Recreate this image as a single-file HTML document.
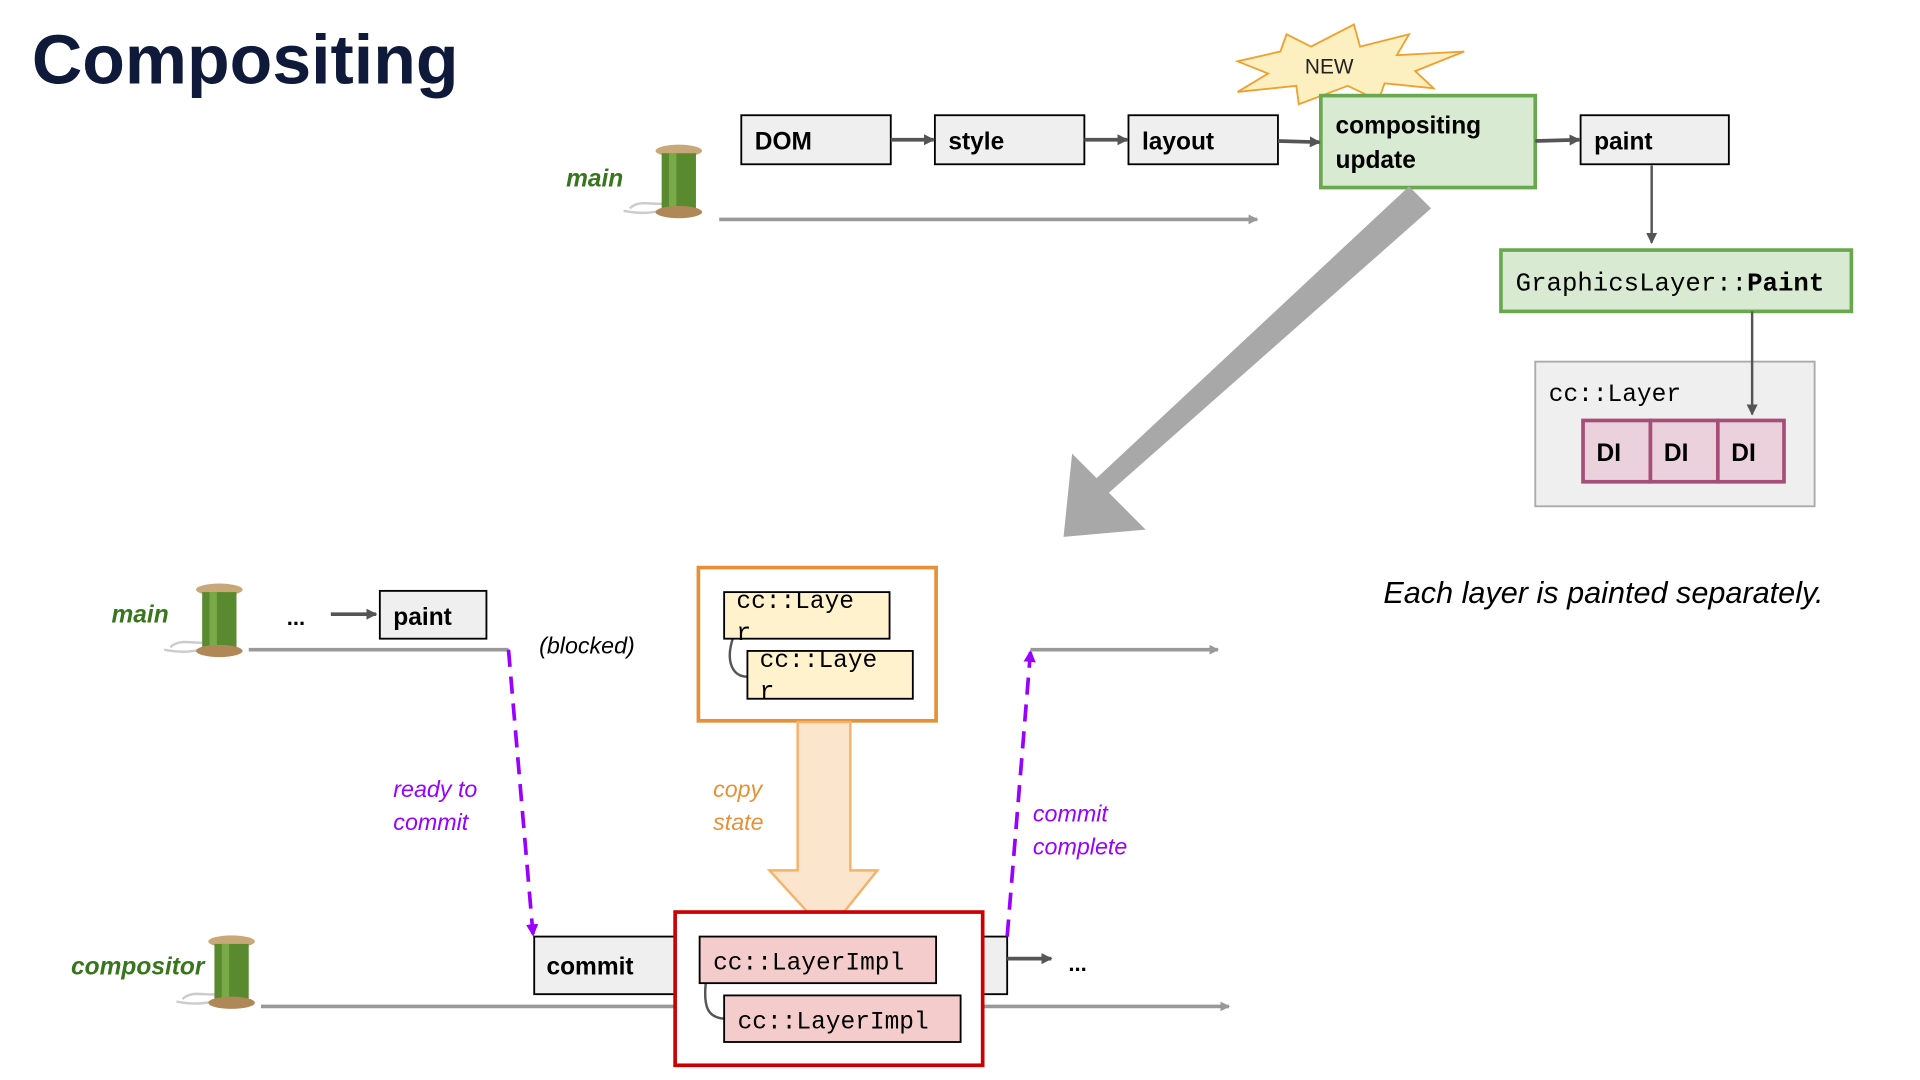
<!DOCTYPE html>
<html><head><meta charset="utf-8"><style>
html,body{margin:0;padding:0;background:#fff;width:1920px;height:1080px;overflow:hidden}
svg{display:block}
text{font-family:"Liberation Sans",sans-serif}
.m{font-family:"Liberation Mono",monospace}
.b{font-weight:bold;font-size:20px;fill:#000}
</style></head><body>
<svg width="1920" height="1080" viewBox="0 0 1567 881" preserveAspectRatio="none" xmlns="http://www.w3.org/2000/svg">
<defs>
<marker id="ag" markerWidth="8" markerHeight="8" refX="7" refY="4" orient="auto" markerUnits="userSpaceOnUse"><path d="M0,0 L8,4 L0,8z" fill="#999"/></marker>
<marker id="ad" markerWidth="9" markerHeight="9" refX="8" refY="4.5" orient="auto" markerUnits="userSpaceOnUse"><path d="M0,0 L9,4.5 L0,9z" fill="#555"/></marker>
<marker id="ap" markerWidth="10" markerHeight="10" refX="8" refY="5" orient="auto" markerUnits="userSpaceOnUse"><path d="M0,0 L10,5 L0,10z" fill="#9900ff"/></marker>
<g id="spool">
<path d="M-40,50 C-30,40 -15,52 0,42 C-10,55 -30,55 -45,52" fill="none" stroke="#ccc" stroke-width="2"/>
<ellipse cx="0" cy="3" rx="19" ry="5" fill="#c8a878"/>
<rect x="-14" y="5" width="28" height="46" fill="#5a8a30"/>
<rect x="-8" y="5" width="6" height="46" fill="#7aaa48"/>
<ellipse cx="0" cy="53" rx="19" ry="5" fill="#b08858"/>
</g>
</defs>
<text x="26" y="68" font-size="57" font-weight="bold" fill="#0f1a3a">Compositing</text>

<use href="#spool" x="554" y="120"/>
<text x="462" y="152" font-size="20" font-style="italic" font-weight="bold" fill="#38761d">main</text>
<line x1="587" y1="179" x2="1026" y2="179" stroke="#999" stroke-width="3" marker-end="url(#ag)"/>

<path d="M1010,50 L1045,42 L1050,28 L1070,38 L1105,20 L1110,38 L1150,28 L1140,45 L1195,42 L1155,58 L1170,72 L1130,68 L1125,82 L1100,70 L1060,85 L1058,70 L1010,75 L1035,60z" fill="#fdf0c0" stroke="#f0a030" stroke-width="1.5"/>
<text x="1065" y="60" font-size="17" fill="#222">NEW</text>

<g stroke="#000" stroke-width="1.5" fill="#efefef">
<rect x="605" y="94" width="122" height="40"/>
<rect x="763" y="94" width="122" height="40"/>
<rect x="921" y="94" width="122" height="40"/>
<rect x="1290" y="94" width="121" height="40"/>
</g>
<rect x="1078" y="78" width="175" height="75" fill="#d9ead3" stroke="#6aa84f" stroke-width="3"/>
<text x="616" y="122" class="b">DOM</text>
<text x="774" y="122" class="b">style</text>
<text x="932" y="122" class="b">layout</text>
<text x="1301" y="122" class="b">paint</text>
<text x="1090" y="109" class="b">compositing</text>
<text x="1090" y="137" class="b">update</text>
<g stroke="#555" stroke-width="3">
<line x1="727" y1="114" x2="762" y2="114" marker-end="url(#ad)"/>
<line x1="885" y1="114" x2="920" y2="114" marker-end="url(#ad)"/>
<line x1="1043" y1="115" x2="1077" y2="116" marker-end="url(#ad)"/>
<line x1="1253" y1="115" x2="1289" y2="114" marker-end="url(#ad)"/>
</g>
<line x1="1348" y1="135" x2="1348" y2="198" stroke="#555" stroke-width="2" marker-end="url(#ad)"/>

<path d="M1150,152 L1168,170 L905,402 L935,432 L868,438 L875,370 L895,390 L1150,152z" fill="#a8a8a8"/>

<rect x="1225" y="204" width="286" height="50" fill="#d9ead3" stroke="#6aa84f" stroke-width="3"/>
<text x="1237" y="237" font-size="21" class="m" fill="#000">GraphicsLayer::<tspan font-weight="bold">Paint</tspan></text>
<rect x="1253" y="295" width="228" height="118" fill="#efefef" stroke="#aaa" stroke-width="1.5"/>
<text x="1264" y="327" font-size="20" class="m" fill="#000">cc::Layer</text>
<g fill="#ead1dc" stroke="#a64d79" stroke-width="3">
<rect x="1292" y="343" width="55" height="50"/><rect x="1347" y="343" width="55" height="50"/><rect x="1402" y="343" width="54" height="50"/>
</g>
<text x="1303" y="376" class="b">DI</text><text x="1358" y="376" class="b">DI</text><text x="1413" y="376" class="b">DI</text>
<line x1="1430" y1="254" x2="1430" y2="338" stroke="#555" stroke-width="2" marker-end="url(#ad)"/>

<text x="1129" y="492" font-size="25" font-style="italic" fill="#000">Each layer is painted separately.</text>

<use href="#spool" x="179" y="478"/>
<text x="91" y="508" font-size="20" font-style="italic" font-weight="bold" fill="#38761d">main</text>
<text x="234" y="510" font-size="18" font-weight="bold">...</text>
<line x1="270" y1="501" x2="307" y2="501" stroke="#555" stroke-width="3" marker-end="url(#ad)"/>
<rect x="310" y="482" width="87" height="39" fill="#efefef" stroke="#000" stroke-width="1.5"/>
<text x="321" y="510" class="b">paint</text>
<line x1="203" y1="530" x2="415" y2="530" stroke="#999" stroke-width="3"/>
<text x="440" y="533" font-size="19" font-style="italic" fill="#000">(blocked)</text>

<line x1="415" y1="530" x2="435" y2="762" stroke="#9900ff" stroke-width="3" stroke-dasharray="14,8" marker-end="url(#ap)"/>
<text x="321" y="650" font-size="19" font-style="italic" fill="#9900ff">ready to</text>
<text x="321" y="677" font-size="19" font-style="italic" fill="#9900ff">commit</text>

<rect x="570" y="463" width="194" height="125" fill="#fff" stroke="#e69138" stroke-width="3"/>
<path d="M598,521 C592,540 598,552 610,552" fill="none" stroke="#555" stroke-width="2"/>
<rect x="591" y="483" width="135" height="38" fill="#fff2cc" stroke="#000" stroke-width="1.5"/>
<rect x="610" y="531" width="135" height="39" fill="#fff2cc" stroke="#000" stroke-width="1.5"/>
<text x="601" y="496" font-size="20" class="m">cc::Laye</text><text x="601" y="522" font-size="20" class="m">r</text>
<text x="620" y="544" font-size="20" class="m">cc::Laye</text><text x="620" y="570" font-size="20" class="m">r</text>

<path d="M651,589 L694,589 L694,710 L716,710 L688,745 L660,745 L628,710 L651,710z" fill="#fce5cd" stroke="#f6b26b" stroke-width="2"/>
<text x="582" y="650" font-size="19" font-style="italic" fill="#e69138">copy</text>
<text x="582" y="677" font-size="19" font-style="italic" fill="#e69138">state</text>

<use href="#spool" x="189" y="765"/>
<text x="58" y="795" font-size="20" font-style="italic" font-weight="bold" fill="#38761d">compositor</text>
<line x1="213" y1="821" x2="1003" y2="821" stroke="#999" stroke-width="3" marker-end="url(#ag)"/>
<rect x="436" y="764" width="386" height="47" fill="#efefef" stroke="#000" stroke-width="1.5"/>
<text x="446" y="795" class="b">commit</text>
<rect x="551" y="744" width="251" height="125" fill="#fff" stroke="#cc0000" stroke-width="3"/>
<path d="M576,802 C574,822 578,830 591,831" fill="none" stroke="#555" stroke-width="2"/>
<rect x="571" y="764" width="193" height="38" fill="#f4cccc" stroke="#000" stroke-width="1.5"/>
<rect x="591" y="812" width="193" height="38" fill="#f4cccc" stroke="#000" stroke-width="1.5"/>
<text x="582" y="791" font-size="20" class="m">cc::LayerImpl</text>
<text x="602" y="839" font-size="20" class="m">cc::LayerImpl</text>
<line x1="822" y1="782" x2="858" y2="782" stroke="#555" stroke-width="3" marker-end="url(#ad)"/>
<text x="872" y="792" font-size="18" font-weight="bold">...</text>

<line x1="822" y1="764" x2="841" y2="532" stroke="#9900ff" stroke-width="3" stroke-dasharray="14,8" marker-end="url(#ap)"/>
<line x1="841" y1="530" x2="994" y2="530" stroke="#999" stroke-width="3" marker-end="url(#ag)"/>
<text x="843" y="670" font-size="19" font-style="italic" fill="#9900ff">commit</text>
<text x="843" y="697" font-size="19" font-style="italic" fill="#9900ff">complete</text>
</svg>
</body></html>
